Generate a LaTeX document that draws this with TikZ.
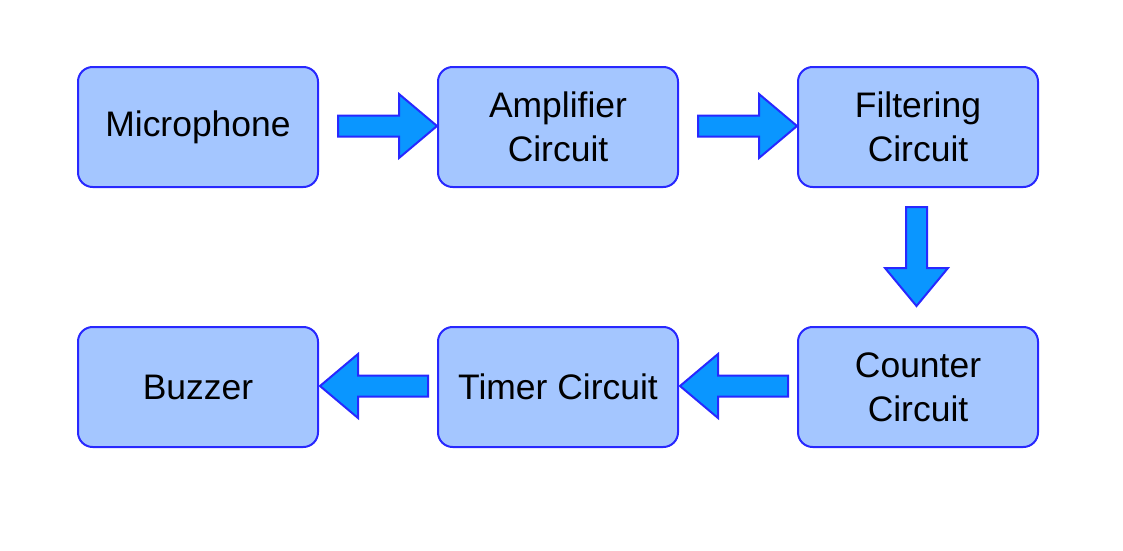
\documentclass[tikz,border=0pt]{standalone}
\usepackage{fontspec}
\setmainfont{Liberation Sans}
\definecolor{boxfill}{RGB}{164,198,255}
\definecolor{boxline}{RGB}{40,40,255}
\definecolor{arrfill}{RGB}{10,150,255}
\tikzset{
  blockbox/.style={draw=boxline, fill=boxfill, line width=1.5pt, rounded corners=11pt,
    minimum width=180pt, minimum height=90pt, align=center, text=black,
    font=\fontsize{26.6}{33}\selectfont},
  blockarrow/.style={draw=boxline, fill=arrfill, line width=1.5pt, line join=miter}
}
\begin{document}
\begin{tikzpicture}[x=0.75pt,y=-0.75pt]
\useasboundingbox (0,0) rectangle (1123,550);
\node[blockbox] (mic) at (198,127) {Microphone};
\node[blockbox] (amp) at (558,127) {Amplifier\\Circuit};
\node[blockbox] (fil) at (918,127) {Filtering\\Circuit};
\node[blockbox] (cnt) at (918,387) {Counter\\Circuit};
\node[blockbox] (tim) at (558,387) {Timer Circuit};
\node[blockbox] (buz) at (198,387) {Buzzer};
% right arrows
\draw[blockarrow] (338,115.5)--(399,115.5)--(399,94)--(437,126)--(399,158)--(399,136.5)--(338,136.5)--cycle;
\draw[blockarrow] (698,115.5)--(759,115.5)--(759,94)--(797,126)--(759,158)--(759,136.5)--(698,136.5)--cycle;
% down arrow
\draw[blockarrow] (906,207)--(906,268)--(885,268)--(916.5,306)--(948,268)--(927,268)--(927,207)--cycle;
% left arrows
\draw[blockarrow] (788,375.5)--(718,375.5)--(718,354)--(680,386)--(718,418)--(718,396.5)--(788,396.5)--cycle;
\draw[blockarrow] (428,375.5)--(358,375.5)--(358,354)--(320,386)--(358,418)--(358,396.5)--(428,396.5)--cycle;
\end{tikzpicture}
\end{document}
